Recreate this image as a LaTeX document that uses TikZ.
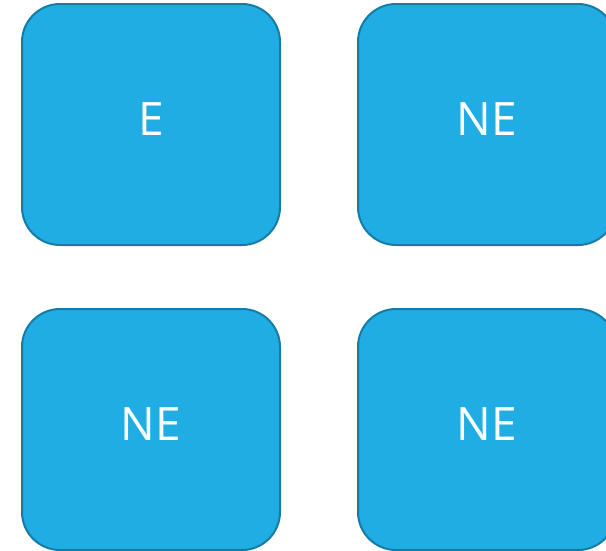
\documentclass[tikz,border=0pt]{standalone}
\usepackage{fontspec}
\setsansfont{Open Sans}
\usepackage{xcolor}
\usepackage{tikz}
\usetikzlibrary{positioning}
\definecolor{tileblue}{RGB}{31, 173, 228}
\definecolor{tileedge}{RGB}{22, 124, 166}

\begin{document}
\begin{tikzpicture}[x=1pt, y=-1pt,
    tile/.style={draw=tileedge, fill=tileblue, line width=2pt, rounded corners=38pt,
        minimum width=258pt, minimum height=241pt, text=white, text depth=10pt,
        font=\sffamily\fontsize{46}{46}\selectfont}]
    \useasboundingbox (0,0) rectangle (606,550);
    \node[tile] (boxE)  at (151, 124.5) {E};
    \node[tile] (boxNEa) at (487, 124.5) {NE};
    
    \node[tile] (boxNEb) at (151, 429.5) {NE};
    \node[tile] (boxNEc) at (487, 429.5) {NE};
\end{tikzpicture}
\end{document}
